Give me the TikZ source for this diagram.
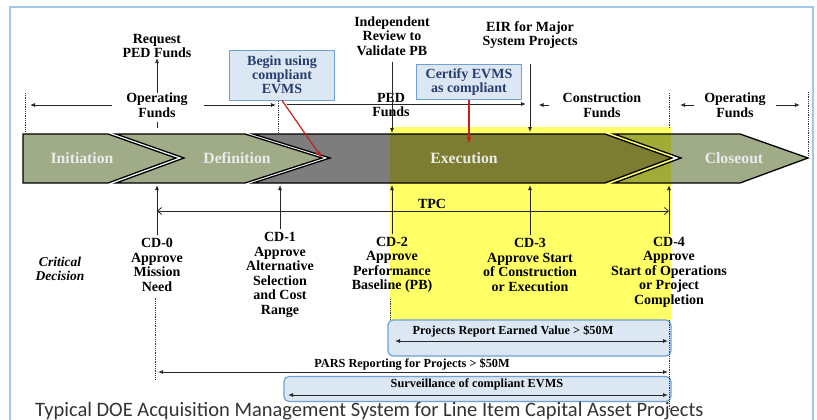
\documentclass[tikz,border=0pt]{standalone}
\usepackage{fontspec}
\setmainfont{Liberation Serif}
\newfontfamily\capfont{Carlito}
\usetikzlibrary{arrows.meta}

\definecolor{sage}{RGB}{160,172,136}
\definecolor{band}{RGB}{125,125,125}
\definecolor{hilite}{RGB}{255,255,102}
\definecolor{boxfill}{RGB}{220,231,244}
\definecolor{boxline}{RGB}{110,160,215}
\definecolor{boxtext}{RGB}{40,60,110}
\definecolor{framecol}{RGB}{160,200,235}
\definecolor{evred}{RGB}{200,30,30}

\begin{document}
\begin{tikzpicture}[x=1pt,y=-1pt,
	lbl/.style={align=center,inner sep=0pt,font=\fontsize{14}{14.5}\selectfont\bfseries},
	barlbl/.style={inner sep=0pt,font=\fontsize{12.3}{13}\selectfont\bfseries},
	phase/.style={inner sep=0pt,text=white!92!black,font=\fontsize{15.7}{16}\selectfont\bfseries},
	chev/.style={draw=black,line width=1.3pt},
	evbox/.style={draw=boxline,fill=boxfill,text=boxtext,align=center,inner sep=0pt,line width=0.8pt,
		font=\fontsize{14}{14}\selectfont\bfseries},
	barbox/.style={draw=boxline,fill=boxfill,rounded corners=5pt,line width=1.2pt},
	arr/.style={-{Latex[length=5pt,width=4pt]},black!85,line width=0.8pt},
	dbl/.style={{Latex[length=5pt,width=4pt]}-{Latex[length=5pt,width=4pt]},black!85,line width=0.9pt},
	tpcarr/.style={{Straight Barb[length=4pt,width=7pt]}-{Straight Barb[length=4pt,width=7pt]},black!85,line width=0.8pt},
	dots/.style={densely dotted,black!80,line width=0.8pt},
	redarr/.style={-{Latex[length=7pt,width=5pt]},evred,line width=1.2pt}]

	\useasboundingbox (0,0) rectangle (817,420);
	\draw[framecol,line width=1.2pt] (10,7) rectangle (813,440);

	% phase band
	\draw[chev,fill=sage] (23,134) -- (108,134) -- (176,158) -- (108,183) -- (23,183) -- cycle;
	\draw[chev,fill=sage] (116,134) -- (245,134) -- (322,158) -- (245,183) -- (116,183) -- (184,158) -- cycle;
	\draw[chev,fill=band] (253,134) -- (605,134) -- (672,158) -- (605,183) -- (253,183) -- (330,158) -- cycle;
	\draw[chev,fill=sage] (614,134) -- (740,134) -- (808,158) -- (740,183) -- (614,183) -- (681,158) -- cycle;
	\coordinate (deftip) at (322,158);
	\coordinate (bandbot) at (0,185);

	\begin{scope}[blend mode=multiply]
		\fill[hilite] (390,127) rectangle (671,320);
	\end{scope}

	\node[phase] (init) at (82,158) {Initiation};
	\node[phase] (defn) at (237,158) {Definition};
	\node[phase] (exec) at (464,158) {Execution};
	\node[phase] (close) at (734,158) {Closeout};

	% funding line
	\node[lbl] (req) at (157,46) {Request\\PED Funds};
	\node[lbl] (opfundsL) at (157,105) {Operating\\Funds};
	\draw[arr] (opfundsL.north) -- (req.south);
	\draw[black!85,line width=0.8pt] (opfundsL.south) ++(0,5) -- ++(0,6);
	\coordinate (opL-a) at (30,105);
	\coordinate (opL-b) at (276,105);
	\draw[arr] (opfundsL.west) ++(-14,0) -- (opL-a);
	\draw[arr] (opfundsL.east) ++(16,0) -- (opL-b);

	\draw[dots] (25,93) -- (25,131);
	\draw[dots] (278,101) -- (278,133);
	\draw[dots] (669,93) -- (669,128);
	\draw[dots] (808,92) -- (808,156);

	\coordinate (ped-a) at (287,104);
	\coordinate (ped-b) at (526,104);
	\draw[arr] (ped-a) -- (ped-b);
	\node[lbl] (ped) at (391,105) {PED\\Funds};
	\node[lbl] (constr) at (602,105) {Construction\\Funds};
	\draw[arr] (constr.west) ++(-14,0) -- ++(-10,0);
	\node[lbl] (opfundsR) at (735,105) {Operating\\Funds};
	\draw[arr] (opfundsR.west) ++(-10,0) -- ++(-14,0);
	\draw[arr] (opfundsR.east) ++(10,0) -- ++(24,0);

	\node[lbl] (indep) at (392,36) {Independent\\Review to\\Validate PB};
	\coordinate (exec-a) at (392,133);
	\draw[arr] (indep.south) ++(0,6) -- (exec-a);
	\node[lbl] (eir) at (530,35) {EIR for Major\\System Projects};
	\coordinate (exec-b) at (530,132);
	\draw[arr] (eir.south) ++(0,15) -- (exec-b);

	% EVMS call-outs
	\node[evbox,minimum width=105pt,minimum height=50pt] (begin) at (282,75) {Begin using\\compliant\\EVMS};
	\draw[redarr] (begin.south) -- (deftip);
	\node[evbox,minimum width=105pt,minimum height=35pt] (certify) at (469,82) {Certify EVMS\\as compliant};
	\coordinate (exec-c) at (469,144);
	\draw[redarr] (certify.south) -- (exec-c);

	% critical decisions
	\node[lbl,font=\fontsize{13.5}{14}\selectfont\bfseries\itshape] (crit) at (60,269) {Critical\\Decision};
	\node[lbl] (cd0) at (157,265) {CD-0\\Approve\\Mission\\Need};
	\node[lbl] (cd1) at (280,275) {CD-1\\Approve\\Alternative\\Selection\\and Cost\\Range};
	\node[lbl] (cd2) at (392,265) {CD-2\\Approve\\Performance\\Baseline (PB)};
	\node[lbl] (cd3) at (530,265) {CD-3\\Approve Start\\of Construction\\or Execution};
	\node[lbl] (cd4) at (669,272) {CD-4\\Approve\\Start of Operations\\or Project\\Completion};
	\foreach \n in {cd0,cd1,cd2,cd3,cd4}
		\draw[arr] (\n.north) ++(0,-3) -- (\n.north |- bandbot);

	\coordinate (tpc-a) at (157,211);
	\coordinate (tpc-b) at (669,211);
	\draw[tpcarr] (tpc-a) -- (tpc-b);
	\node[lbl] (tpc) at (432,204) {TPC};

	% reporting bars
	\draw[dots] (cd0.south) ++(-2,6) -- ++(0,82);
	\draw[dots] (cd2.south) ++(-2,6) -- (390,345);

	\node[barbox,minimum width=283pt,minimum height=36pt] (prbox) at (529.5,338) {};
	\node[barlbl] (prtext) at (513,331) {Projects Report Earned Value > \$50M};
	\coordinate (pr-a) at (395,341);
	\coordinate (pr-b) at (668,341);
	\draw[dbl] (pr-a) -- (pr-b);

	\node[barlbl] (parstext) at (412,364) {PARS Reporting for Projects > \$50M};
	\coordinate (pars-a) at (158,372);
	\coordinate (pars-b) at (668,372);
	\draw[dbl] (pars-a) -- (pars-b);

	\node[barbox,minimum width=387pt,minimum height=25pt] (survbox) at (477.5,389) {};
	\node[barlbl] (survtext) at (477,384) {Surveillance of compliant EVMS};
	\coordinate (surv-a) at (288,395);
	\coordinate (surv-b) at (668,395);
	\draw[dbl] (surv-a) -- (surv-b);

	\draw[dots] (669,320) -- (669,410);

	\node[anchor=west,inner sep=0pt,text=black!80,font=\capfont\fontsize{20.5}{22}\selectfont] (caption) at (35,411)
		{Typical DOE Acquisition Management System for Line Item Capital Asset Projects};
\end{tikzpicture}
\end{document}
